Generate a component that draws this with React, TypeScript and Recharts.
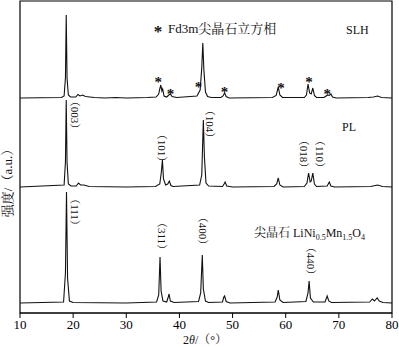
import React from 'react';
import { LineChart, Line, XAxis, YAxis, ReferenceArea } from 'recharts';

// 2θ ticks
const xTicks = [10, 20, 30, 40, 50, 60, 70, 80];

// intensity above each trace's own baseline: [2θ, I]
const slh: number[][] = [
  [10, 0], [17.8, 0.5], [18.3, 2], [18.55, 20], [18.7, 83], [18.85, 20], [19.1, 3], [19.5, 1],
  [20.5, 1], [20.9, 3.5], [21.3, 2], [21.8, 3], [22.3, 1.5], [24, 0.5], [26, 0], [28, 0.5], [30, 0],
  [34, 0.5], [35.6, 1], [36.1, 4], [36.3, 9], [36.5, 13], [36.7, 7], [36.85, 9], [37.1, 2],
  [37.6, 1], [38.0, 3], [38.3, 4], [38.6, 1.5], [39.5, 0.5], [43.3, 2], [43.9, 8], [44.2, 30],
  [44.4, 55], [44.6, 28], [44.9, 6], [45.3, 1.5], [46, 0.5], [47.8, 0.5], [48.2, 2], [48.5, 5],
  [48.8, 1.5], [49.3, 0], [57.5, 0.5], [58.2, 2.5], [58.6, 11], [58.9, 3], [59.4, 0.5],
  [63.5, 0.5], [63.9, 3], [64.2, 14], [64.5, 5], [64.8, 4], [65.1, 10], [65.4, 2.5], [65.8, 0.5],
  [67.2, 0.5], [67.6, 2], [67.9, 3], [68.2, 2.5], [68.5, 4], [68.8, 1], [69.5, 0],
  [75.5, 0.5], [76.5, 1], [77.3, 2], [78, 0.5], [80, 0],
];

const pl: number[][] = [
  [10, 0], [18.3, 2], [18.55, 25], [18.7, 87], [18.85, 25], [19.1, 3], [19.6, 1], [20.6, 1],
  [21.0, 4], [21.4, 2], [22, 2], [23, 0.5], [30, 0], [35.5, 0.5], [36.3, 3], [36.6, 15],
  [36.8, 27], [37.0, 8], [37.4, 2], [37.8, 3], [38.1, 6], [38.4, 1.5], [38.8, 0.5], [43.8, 2],
  [44.2, 12], [44.5, 67], [44.7, 30], [45.0, 4], [45.5, 1], [48.1, 0.5], [48.4, 3], [48.6, 5],
  [48.9, 1], [50, 0], [57.8, 0.5], [58.3, 3], [58.6, 9], [58.9, 2], [59.5, 0], [63.5, 0.5],
  [64.0, 4], [64.3, 14], [64.6, 5], [64.8, 6], [65.1, 14], [65.4, 3], [65.8, 0.5], [67.8, 1],
  [68.2, 5], [68.5, 1], [69.2, 0], [76, 0.5], [77.3, 2], [78.2, 0.5], [80, 0],
];

const spinel: number[][] = [
  [10, 0], [18.2, 1], [18.55, 30], [18.75, 111], [18.95, 25], [19.3, 2], [20, 0.5], [30, 0],
  [35.7, 1], [36.1, 8], [36.35, 46], [36.55, 12], [36.9, 2], [37.6, 1], [37.9, 6], [38.05, 9],
  [38.3, 2], [39, 0.5], [43.6, 1.5], [44.0, 10], [44.3, 48], [44.5, 14], [44.9, 2], [45.5, 0.5],
  [48.1, 1], [48.35, 6], [48.5, 7], [48.8, 1.5], [49.5, 0], [58.0, 1], [58.4, 6], [58.6, 13],
  [58.9, 3], [59.5, 0.5], [63.8, 1.5], [64.2, 10], [64.4, 22], [64.65, 5], [65.2, 1],
  [67.4, 1], [67.8, 7], [68.1, 2], [68.6, 0.5], [75.8, 1], [76.3, 4], [76.7, 2], [77.2, 5],
  [77.6, 2], [78.3, 0.5], [80, 0],
];

// vertical offset of each trace (stacked pattern)
const offsets = { slh: 215, pl: 126, spinel: 10 };

const W = 399;
const H = 347;
const M = { top: 1, left: 20, right: 7, bottom: 14 };
const px = (d: number) => M.left + ((d - 10) * (W - M.left - M.right)) / 70;

const toRows = (arr: number[][], off: number) => arr.map(([x, v]) => ({ x, y: v + off }));

const serif = "'Liberation Serif', 'Times New Roman', 'Noto Serif CJK SC', 'Noto Sans CJK SC', serif";

const hkl = [
  { t: '（003）', d: 20.35, y: 115 },
  { t: '（101）', d: 36.7, y: 148 },
  { t: '（104）', d: 45.75, y: 124 },
  { t: '（018）', d: 63.45, y: 154 },
  { t: '（110）', d: 66.45, y: 154 },
  { t: '（111）', d: 20.35, y: 212 },
  { t: '（311）', d: 36.7, y: 236 },
  { t: '（400）', d: 44.45, y: 231 },
  { t: '（440）', d: 64.75, y: 261 },
];

const stars = [
  [36.0, 80], [38.3, 92], [43.6, 85], [48.5, 90], [59.1, 86], [64.4, 80], [67.8, 92],
];

export default function App() {
  return (
    <div style={{ position: 'absolute', left: 0, top: 0, width: W, height: H, background: '#fff' }}>
      <LineChart width={W} height={H} margin={M}>
        <XAxis
          type="number"
          dataKey="x"
          domain={[10, 80]}
          ticks={xTicks}
          allowDataOverflow
          height={20}
          tickSize={5}
          stroke="#000"
          tick={{ fill: '#000', fontSize: 13, fontFamily: serif }}
        />
        <YAxis type="number" domain={[0, 312]} hide />
        <ReferenceArea x1={10} x2={80} y1={0} y2={312} fill="none" stroke="#000" strokeWidth={1.2} />
        <Line data={toRows(slh, offsets.slh)} dataKey="y" stroke="#111" strokeWidth={1.1} dot={false} isAnimationActive={false} />
        <Line data={toRows(pl, offsets.pl)} dataKey="y" stroke="#111" strokeWidth={1.1} dot={false} isAnimationActive={false} />
        <Line data={toRows(spinel, offsets.spinel)} dataKey="y" stroke="#111" strokeWidth={1.1} dot={false} isAnimationActive={false} />
      </LineChart>
      <svg width={W} height={H} style={{ position: 'absolute', left: 0, top: 0, pointerEvents: 'none' }}>
        <g fontFamily={serif} fill="#111">
          {hkl.map((h) => (
            <text key={h.t + h.d} x={px(h.d)} y={h.y} fontSize={11} textAnchor="middle" dominantBaseline="central" transform={`rotate(90, ${px(h.d)}, ${h.y})`}>
              {h.t}
            </text>
          ))}
          {stars.map(([d, y], i) => (
            <text key={i} x={px(d)} y={y + 7} fontSize={15} fontWeight="bold" textAnchor="middle">*</text>
          ))}
          <text x={158} y={37} fontSize={17} fontWeight="bold" textAnchor="middle">*</text>
          <text x={168} y={33} fontSize={13}>Fd3m尖晶石立方相</text>
          <text x={346} y={34} fontSize={12}>SLH</text>
          <text x={342} y={131} fontSize={12}>PL</text>
          <text x={254} y={237} fontSize={12}>
            尖晶石 LiNi<tspan fontSize={8} dy={3}>0.5</tspan><tspan dy={-3}>Mn</tspan><tspan fontSize={8} dy={3}>1.5</tspan><tspan dy={-3}>O</tspan><tspan fontSize={8} dy={3}>4</tspan>
          </text>
          <text x={205} y={344} fontSize={12} textAnchor="middle">
            2<tspan fontStyle="italic">θ</tspan>/（°）
          </text>
          <text x={12} y={180} fontSize={13} textAnchor="middle" transform="rotate(-90, 12, 180)">强度/（a.u.）</text>
        </g>
      </svg>
    </div>
  );
}
